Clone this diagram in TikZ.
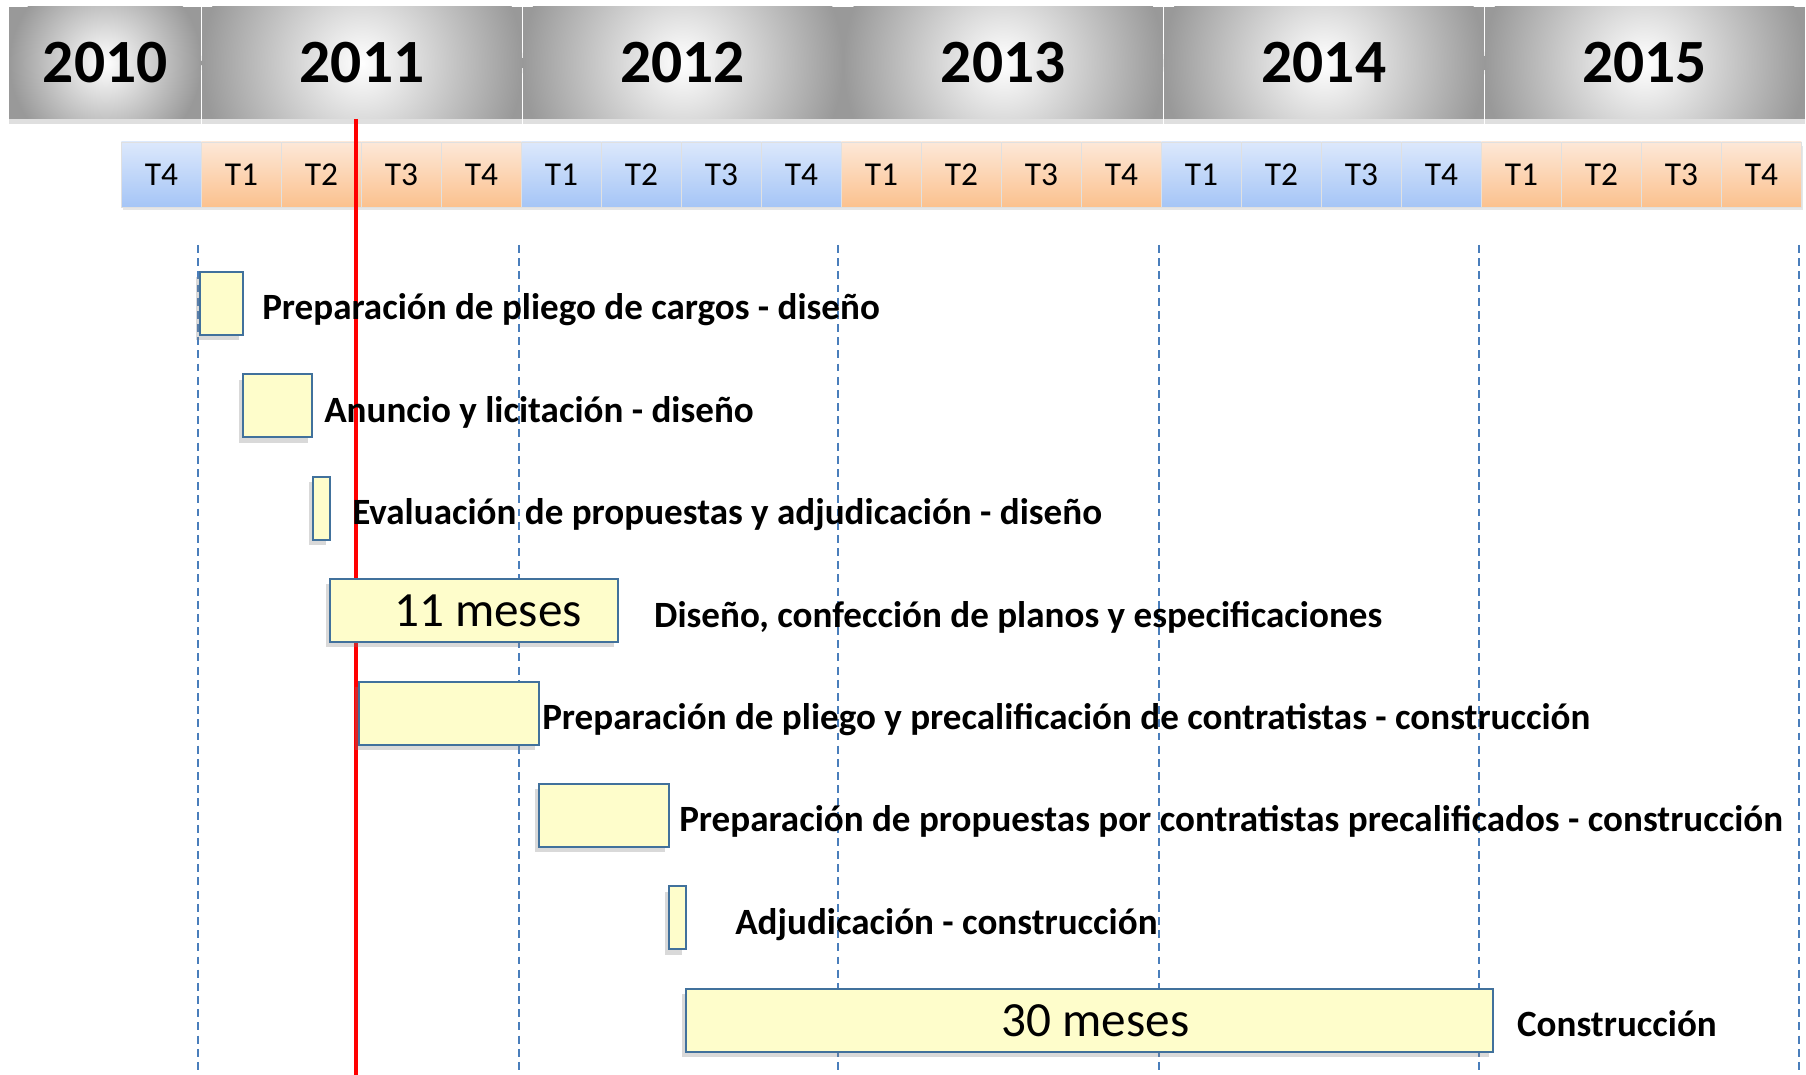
\documentclass[tikz,border=0pt]{standalone}
\usepackage{fontspec}
\setmainfont{Carlito}
\usetikzlibrary{positioning,shadows}

\definecolor{barfill}{HTML}{FEFDCB}
\definecolor{barline}{HTML}{41719C}
\definecolor{gridblue}{HTML}{4A7EBB}
\definecolor{qblueT}{HTML}{DCE8FC}
\definecolor{qblueB}{HTML}{A5C5F6}
\definecolor{qorangeT}{HTML}{FDE8D8}
\definecolor{qorangeB}{HTML}{FBC18E}

\begin{document}
\begin{tikzpicture}[
    x=0.02cm, y=0.02cm,
    year/.style={minimum width=6.4cm, minimum height=2.24cm, inner sep=0, anchor=west,
      fill=black!40,
      path picture={\shade[inner color=white, outer color=black!40]
        (path picture bounding box.center) circle (#1);},
      drop shadow={shadow xshift=0pt, shadow yshift=-3pt, opacity=0.25},
      font=\fontsize{35}{40}\selectfont\bfseries},
    year/.default=3.2cm,
    quarter/.style={minimum width=1.6cm, minimum height=1.3cm, inner sep=0, anchor=west,
      draw=black!12, line width=0.4pt,
      drop shadow={shadow xshift=1pt, shadow yshift=-2pt, opacity=0.2},
      font=\fontsize{19}{22}\selectfont},
    qblue/.style={quarter, top color=qblueT, bottom color=qblueB},
    qorange/.style={quarter, top color=qorangeT, bottom color=qorangeB},
    bar/.style={draw=barline, fill=barfill, line width=1.1pt, minimum height=1.26cm,
      inner sep=0, anchor=west,
      drop shadow={shadow xshift=-2pt, shadow yshift=-3pt, opacity=0.3}},
    task/.style={inner sep=0, anchor=base west, yshift=-0.33cm,
      font=\fontsize{21.1}{25}\selectfont\bfseries},
    dur/.style={font=\fontsize{28}{32}\selectfont},
    yeargrid/.style={gridblue, line width=0.9pt, dash pattern=on 4.5pt off 3pt},
    today/.style={red, line width=2pt},
  ]
  \useasboundingbox (0,0) rectangle (1806,1075);

  % years
  \node[year=1.92cm, minimum width=3.84cm] (y2010) at (9,1012) {2010};
  \node[year, right=0pt of y2010] (y2011) {2011};
  \node[year, right=0pt of y2011] (y2012) {2012};
  \node[year, right=0pt of y2012] (y2013) {2013};
  \node[year, right=0pt of y2013] (y2014) {2014};
  \node[year, right=0pt of y2014] (y2015) {2015};

  % quarters
  \foreach \q [count=\i from 0] in {T4,T1,T2,T3,T4,T1,T2,T3,T4,T1,T2,T3,T4,T1,T2,T3,T4,T1,T2,T3,T4} {
    \pgfmathtruncatemacro\g{mod(int((\i+3)/4),2)}
    \ifnum\g=1 \def\qc{qorange}\else\def\qc{qblue}\fi
    \node[\qc] (q\i) at (121+\i*80,900.5) {\q};
  }

  % year lines and today line
  \foreach \x in {198,519,838,1159,1479,1799}
    \draw[yeargrid] (\x,830) -- (\x,0);
  \draw[today] (356,956) -- (356,0);

  % tasks
  \node[bar, minimum width=0.86cm] (b1) at (199,771.5) {};
  \node[right=0.36cm of b1, task] (t1) {Preparación de pliego de cargos - diseño};

  \node[bar, minimum width=1.38cm] (b2) at (242,669.1) {};
  \node[right=0.22cm of b2, task] (t2) {Anuncio y licitación - diseño};

  \node[bar, minimum width=0.34cm] (b3) at (312,566.7) {};
  \node[right=0.42cm of b3, task] (t3) {Evaluación de propuestas y adjudicación - diseño};

  \node[bar, dur, minimum width=5.76cm] (b4) at (329,464.3) {\hspace{0.56cm}11 meses};
  \node[right=0.7cm of b4, task] (t4) {Diseño, confección de planos y especificaciones};

  \node[bar, minimum width=3.6cm] (b5) at (358,361.9) {};
  \node[right=0.04cm of b5, task] (t5) {Preparación de pliego y precalificación de contratistas - construcción};

  \node[bar, minimum width=2.6cm] (b6) at (538,259.5) {};
  \node[right=0.18cm of b6, task] (t6) {Preparación de propuestas por contratistas precalificados - construcción};

  \node[bar, minimum width=0.34cm] (b7) at (668,157.1) {};
  \node[right=0.96cm of b7, task] (t7) {Adjudicación - construcción};

  \node[bar, dur, minimum width=16.14cm] (b8) at (685,54.7) {\hspace{0.24cm}30 meses};
  \node[right=0.46cm of b8, task] (t8) {Construcción};

\end{tikzpicture}
\end{document}
